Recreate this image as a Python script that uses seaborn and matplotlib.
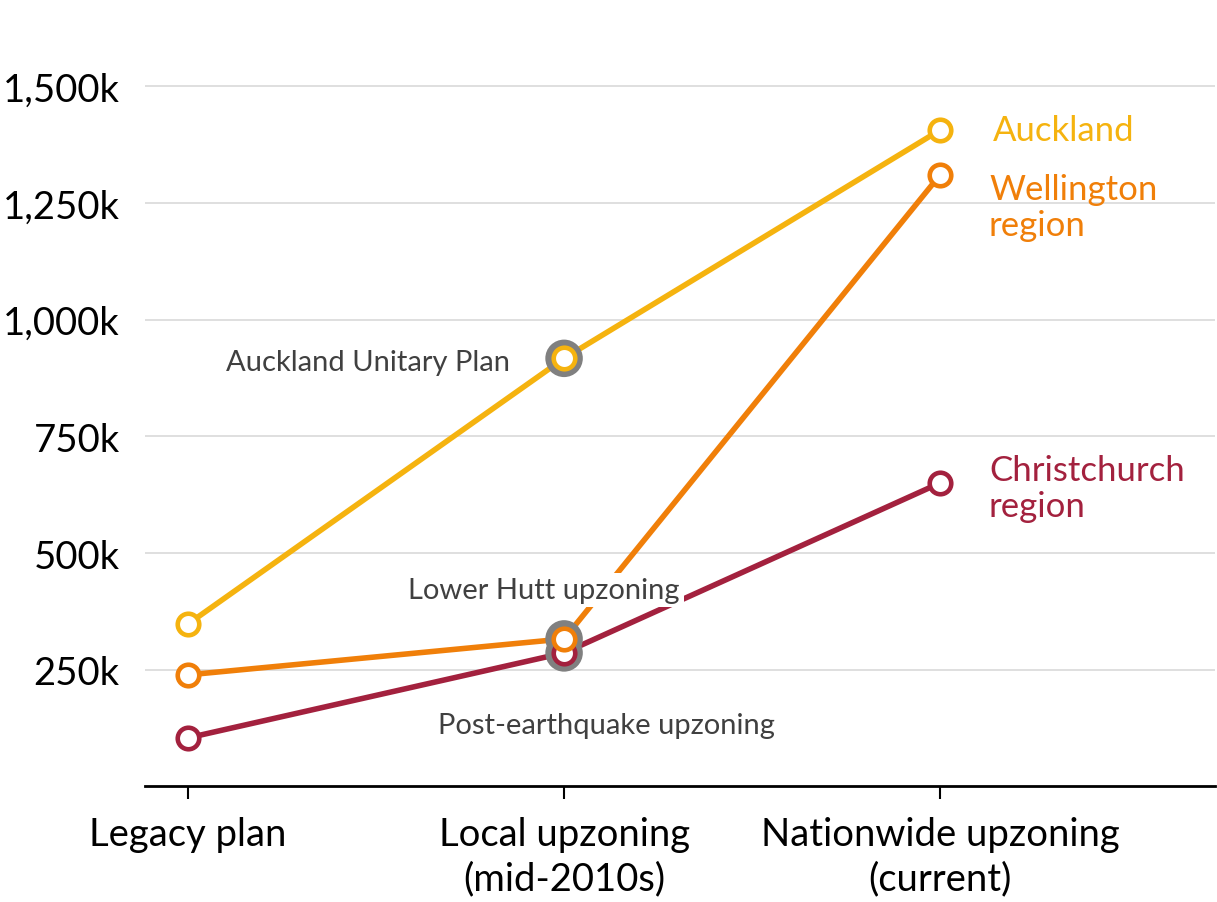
import matplotlib
matplotlib.use("Agg")
import matplotlib.pyplot as plt
import seaborn as sns
import pandas as pd
from matplotlib.ticker import FuncFormatter

sns.set_theme(style="white")
plt.rcParams['font.family'] = ['Lato', 'DejaVu Sans']

categories = ["Legacy plan", "Local upzoning\n(mid-2010s)", "Nationwide upzoning\n(current)"]
auckland = [348, 917, 1406]
wellington = [239, 316, 1310]
christchurch = [104, 286, 650]
series_names = ["Auckland", "Wellington\nregion", "Christchurch\nregion"]
colors = ["#F5B30F", "#F07F09", "#A3213E"]
yticks = [250, 500, 750, 1000, 1250, 1500]

fig = plt.figure(figsize=(12.17, 9.03), dpi=100)
ax = fig.add_axes([0.119, 0.128, 0.879, 0.853])

xs = list(range(len(categories)))
series = [auckland, wellington, christchurch]

# lines
for vals, c in zip(series, colors):
    df = pd.DataFrame({"x": xs, "y": vals})
    sns.lineplot(data=df, x="x", y="y", ax=ax, color=c, linewidth=4.0,
                 sort=False, zorder=2)

# gray highlight rings at the local upzoning points
hl = pd.DataFrame({"x": [1, 1, 1], "y": [auckland[1], christchurch[1], wellington[1]]})
sns.scatterplot(data=hl, x="x", y="y", ax=ax, s=27**2, color="#808080",
                edgecolor="none", zorder=3)

# markers (draw christchurch, then wellington, then auckland on top)
for vals, c in zip(reversed(series), reversed(colors)):
    df = pd.DataFrame({"x": xs, "y": vals})
    sns.scatterplot(data=df, x="x", y="y", ax=ax, s=15.5**2, color="white",
                    edgecolor=c, linewidth=3.3, zorder=4)

ax.set_xlim(-0.115, 2.73)
ax.set_ylim(0, 1650)
ax.set_yticks(yticks)
ax.yaxis.set_major_formatter(FuncFormatter(lambda v, p: f"{int(v):,}k"))
ax.set_xticks(xs)
ax.set_xticklabels(categories, linespacing=1.3)
ax.set_xlabel("")
ax.set_ylabel("")
ax.grid(axis="y", color="#D9D9D9", linewidth=1.2)
ax.grid(axis="x", visible=False)
for s in ["top", "right", "left"]:
    ax.spines[s].set_visible(False)
ax.spines["bottom"].set_color("black")
ax.spines["bottom"].set_linewidth(2.0)
ax.tick_params(axis="y", length=0, labelsize=27.5, pad=18, labelcolor="black")
ax.tick_params(axis="x", length=9, width=1.5, color="black", direction="out",
               labelsize=27.5, pad=12, labelcolor="black", bottom=True)

# series labels
ax.text(2.14, 1406, series_names[0], color=colors[0], fontsize=25, va="center", ha="left")
ax.text(2.13, 1241, series_names[1], color=colors[1], fontsize=25, va="center", ha="left",
        linespacing=1.15)
ax.text(2.13, 639, series_names[2], color=colors[2], fontsize=25, va="center", ha="left",
        linespacing=1.15)

# annotations
ax.text(0.856, 910, "Auckland Unitary Plan", color="#404040", fontsize=21,
        ha="right", va="center", zorder=5)
ax.text(0.585, 421, "Lower Hutt upzoning", color="#404040", fontsize=21,
        ha="left", va="center", zorder=5,
        bbox=dict(facecolor="white", edgecolor="none", pad=3))
ax.text(0.665, 132, "Post-earthquake upzoning", color="#404040", fontsize=21,
        ha="left", va="center", zorder=5)

fig.savefig("out.png", dpi=100)
